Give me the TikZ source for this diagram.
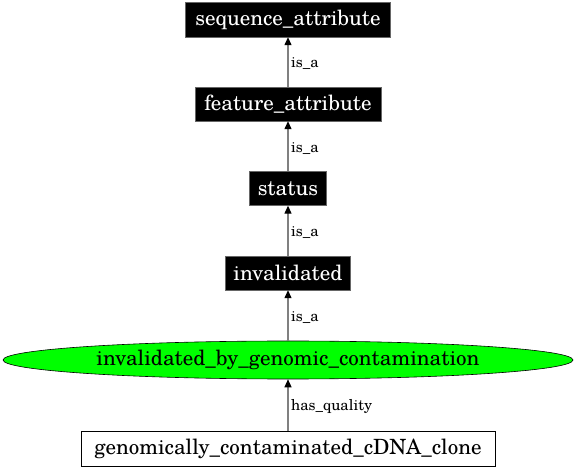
\documentclass[tikz,border=0pt]{standalone}
\usepackage{fontspec}
\setmainfont{texgyreschola-regular.otf}
\usetikzlibrary{arrows.meta,shapes.geometric}
\begin{document}
\begin{tikzpicture}[x=1pt,y=-1pt,
  blackbox/.style={draw=black!60,fill=black,text=white,inner sep=0pt,font=\fontsize{21}{25}\selectfont},
  whitebox/.style={draw=black,fill=white,text=black,inner sep=0pt,line width=0.8pt,font=\fontsize{21}{25}\selectfont},
  greenell/.style={ellipse,draw=black,fill=green,inner sep=0pt,line width=0.6pt,font=\fontsize{21}{25}\selectfont},
  edge/.style={draw=black!50,line width=1.3pt,-{Triangle[color=black,length=8pt,width=7pt]}},
  elabel/.style={right,inner sep=2.5pt,yshift=-2pt,font=\fontsize{15}{18}\selectfont,text=black}]
\useasboundingbox (0,0) rectangle (576,470);
\node[blackbox,minimum width=205pt,minimum height=35pt] (seq) at (288,19.5) {sequence\_attribute};
\node[blackbox,minimum width=186pt,minimum height=34pt] (feat) at (288,104) {feature\_attribute};
\node[blackbox,minimum width=77pt,minimum height=34pt] (stat) at (288,188.5) {status};
\node[blackbox,minimum width=125pt,minimum height=34pt] (inv) at (288,273) {invalidated};
\node[greenell,minimum width=570pt,minimum height=38pt] (ibg) at (288,360) {invalidated\_by\_genomic\_contamination};
\node[whitebox,minimum width=414pt,minimum height=35pt] (gcc) at (288,448.5) {genomically\_contaminated\_cDNA\_clone};
\draw[edge] (feat.north) -- (seq.south) node[midway,elabel] {is\_a};
\draw[edge] (stat.north) -- (feat.south) node[midway,elabel] {is\_a};
\draw[edge] (inv.north) -- (stat.south) node[midway,elabel] {is\_a};
\draw[edge] (ibg.north) -- (inv.south) node[midway,elabel] {is\_a};
\draw[edge] (gcc.north) -- (ibg.south) node[midway,elabel] {has\_quality};
\end{tikzpicture}
\end{document}
